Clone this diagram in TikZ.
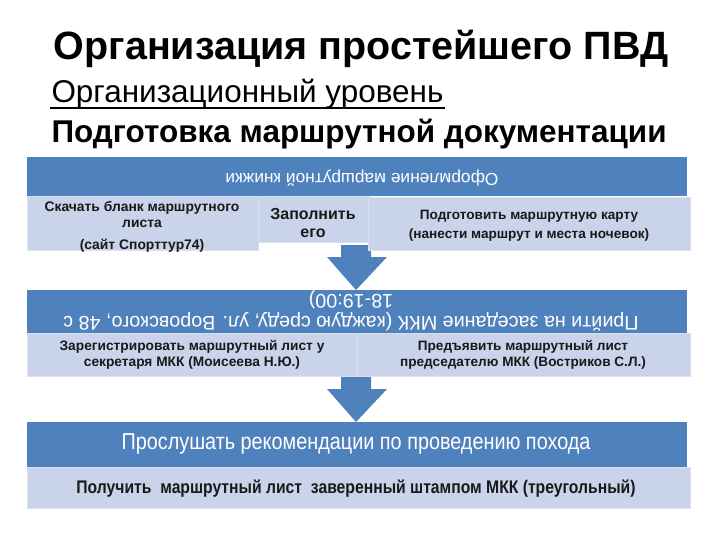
\documentclass[tikz,border=0pt]{standalone}
\usepackage{fontspec}
\setmainfont{Liberation Sans}
\newfontfamily\narrowfont[FakeStretch=0.86]{Liberation Sans}

\definecolor{hdrblue}{RGB}{79,129,189}
\definecolor{lightblue}{RGB}{201,211,233}
\definecolor{lightedge}{RGB}{216,223,239}
\definecolor{boxtext}{RGB}{25,25,25}

\tikzset{every picture/.style={line width=0.75pt}}
\tikzset{
  hdrbox/.style={fill=hdrblue, draw=none},
  lbox/.style={fill=lightblue, draw=lightedge, line width=0.6},
  barrow/.style={fill=hdrblue, draw=none},
  hdrtext/.style={inner sep=0.75pt, text=white, align=center},
  boxlabel/.style={inner sep=0.75pt, text=boxtext, align=center}
}

\begin{document}
\begin{tikzpicture}[x=0.75pt,y=0.75pt,yscale=-1,xscale=1]
	\useasboundingbox (0,0) rectangle (720,540);
	
	% Text Node
	\draw (361,49) node [inner sep=0.75pt] (title) {\fontsize{29.6}{34}\selectfont\bfseries Организация простейшего ПВД};
	% Text Node
	\draw (50,94) node [anchor=west][inner sep=0.75pt] (level) {\fontsize{23.6}{28}\selectfont Организационный уровень};
	\draw [line width=1.5]  ([yshift=4]level.base west) -- ([yshift=4]level.base east) ;
	% Text Node
	\draw (50,134) node [anchor=west][inner sep=0.75pt] (topic) {\fontsize{23.6}{28}\selectfont\bfseries Подготовка маршрутной документации};
	
	%Shape: Arrow [id:arrowone] 
	\draw  [barrow] (341,245) -- (371,245) -- (371,257) -- (387,257) -- (356,290) -- (327,257) -- (341,257) -- cycle ;
	%Shape: Arrow [id:arrowtwo] 
	\draw  [barrow] (341,374) -- (371,374) -- (371,389) -- (387,389) -- (356,422) -- (327,389) -- (341,389) -- cycle ;
	
	%Shape: Rectangle [id:hdrone] 
	\draw  [hdrbox] (27,157) -- (687,157) -- (687,196) -- (27,196) -- cycle ;
	%Shape: Rectangle [id:boxfill] 
	\draw  [lbox] (258,196) -- (370,196) -- (370,242) -- (258,242) -- cycle ;
	%Shape: Rectangle [id:boxload] 
	\draw  [lbox] (27,196) -- (258,196) -- (258,250) -- (27,250) -- cycle ;
	%Shape: Rectangle [id:boxmap] 
	\draw  [lbox] (368,197) -- (690,197) -- (690,250) -- (368,250) -- cycle ;
	
	%Shape: Rectangle [id:hdrtwo] 
	\draw  [hdrbox] (27,290) -- (687,290) -- (687,333) -- (27,333) -- cycle ;
	%Shape: Rectangle [id:boxreg] 
	\draw  [lbox] (27,333) -- (357,333) -- (357,376) -- (27,376) -- cycle ;
	%Shape: Rectangle [id:boxshow] 
	\draw  [lbox] (357,333) -- (690,333) -- (690,376) -- (357,376) -- cycle ;
	
	%Shape: Rectangle [id:hdrthree] 
	\draw  [hdrbox] (27,422) -- (687,422) -- (687,467) -- (27,467) -- cycle ;
	%Shape: Rectangle [id:boxget] 
	\draw  [lbox] (27,467) -- (690,467) -- (690,508) -- (27,508) -- cycle ;
	
	% Text Node
	\draw (362,178) node [hdrtext, rotate=180, font={\fontsize{13}{16}\selectfont}] (bookhdr) {Оформление маршрутной книжки};
	% Text Node
	\draw (142,227) node [boxlabel, font={\fontsize{10.4}{12.5}\selectfont\bfseries}] (loadtxt) {Скачать бланк маршрутного\\[-1pt] листа\\[4pt] (сайт Спорттур74)};
	% Text Node
	\draw (313,223) node [boxlabel, font={\fontsize{12}{14}\selectfont\bfseries}] (filltxt) {Заполнить\\ его};
	% Text Node
	\draw (529,226) node [boxlabel, font={\fontsize{10.2}{14.5}\selectfont\bfseries}] (maptxt) {Подготовить маршрутную карту\\ (нанести маршрут и места ночевок)};
	
	% Text Node
	\draw (351,311) node [hdrtext, rotate=180, font={\fontsize{14.8}{16.5}\selectfont}] (meethdr) {Прийти на заседание МКК (каждую среду, ул. Воровского, 48 с\\ 18-19:00)};
	% Text Node
	\draw (192,355) node [boxlabel, font={\fontsize{10.3}{12}\selectfont\bfseries}] (regtxt) {Зарегистрировать маршрутный лист у\\ секретаря МКК (Моисеева Н.Ю.)};
	% Text Node
	\draw (523,355) node [boxlabel, font={\fontsize{10.2}{12}\selectfont\bfseries}] (showtxt) {Предъявить маршрутный лист\\ председателю МКК (Востриков С.Л.)};
	
	% Text Node
	\draw (356,444) node [hdrtext, font={\narrowfont\fontsize{17.3}{21}\selectfont}] (listenhdr) {Прослушать рекомендации по проведению похода};
	% Text Node
	\draw (356,489) node [boxlabel, font={\narrowfont\fontsize{13.7}{15}\selectfont\bfseries}] (gettxt) {Получить\ \ маршрутный лист\ \ заверенный штампом МКК (треугольный)};
	
\end{tikzpicture}
\end{document}
